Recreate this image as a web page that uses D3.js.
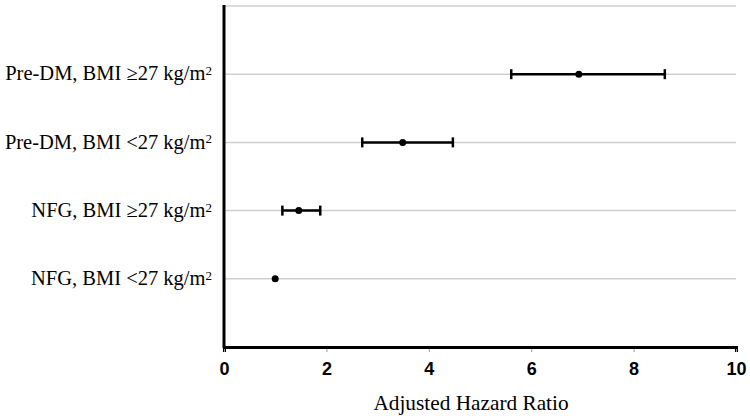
<!DOCTYPE html>
<html>
<head>
<meta charset="utf-8">
<script src="https://cdn.jsdelivr.net/npm/d3@7"></script>
<style>
  body { margin: 0; background: #fff; }
  svg { display: block; }
</style>
</head>
<body>
<svg id="chart" width="750" height="416"></svg>
<script>
// groups from bottom (1) to top (4)
const groups = ["NFG, BMI <27 kg/m", "NFG, BMI \u226527 kg/m", "Pre-DM, BMI <27 kg/m", "Pre-DM, BMI \u226527 kg/m"]
const hr = [1.0, 1.46, 3.49, 6.93]
const lower = [1.0, 1.14, 2.70, 5.61]
const upper = [1.0, 1.88, 4.47, 8.61]
const xTicks = [0, 2, 4, 6, 8, 10]

const svg = d3.select("#chart")

let x = d3.scaleLinear().domain([0, 10]).range([224, 736])
let y = d3.scaleLinear().domain([0, 5]).range([347, 6])

// gridlines
svg.append("g")
    .selectAll("line")
    .data([1, 2, 3, 4, 5])
    .join("line")
    .attr("x1", x(0)).attr("x2", x(10))
    .attr("y1", d => y(d)).attr("y2", d => y(d))
    .style("stroke", "#cfcfcf")
    .style("stroke-width", 1.5)

// x axis
let xAxis = d3.axisBottom(x).tickValues(xTicks).tickSize(5).tickPadding(10)
let gx = svg.append("g")
    .attr("transform", `translate(0,${y(0)})`)
    .call(xAxis)
gx.select(".domain").style("stroke", "#000").style("stroke-width", 3)
gx.selectAll(".tick line").style("stroke", "#999").attr("y1", 2)
gx.selectAll(".tick text")
    .style("font-family", "'Liberation Sans', Arial, sans-serif")
    .style("font-weight", "bold")
    .style("font-size", "18px")
    .style("fill", "#000")

// y axis line
svg.append("line")
    .attr("x1", x(0)).attr("x2", x(0))
    .attr("y1", y(5) - 1).attr("y2", y(0) + 1)
    .style("stroke", "#000")
    .style("stroke-width", 3)

// category labels
let labels = svg.append("g")
    .selectAll("text")
    .data(groups)
    .join("text")
    .attr("x", 212)
    .attr("y", (d, i) => y(i + 1))
    .attr("dy", "0.3em")
    .attr("text-anchor", "end")
    .style("font-family", "'Liberation Serif', 'Times New Roman', serif")
    .style("font-size", "20.5px")
    .style("fill", "#000")
labels.append("tspan").text(d => d)
labels.append("tspan")
    .attr("dy", "-0.4em")
    .style("font-size", "13px")
    .text("2")

// error bars
let rows = groups.map((g, i) => ({ pos: i + 1, hr: hr[i], lo: lower[i], hi: upper[i] }))
let ci = rows.filter(d => d.hi > d.lo)

svg.append("g")
    .selectAll("line")
    .data(ci)
    .join("line")
    .attr("x1", d => x(d.lo)).attr("x2", d => x(d.hi))
    .attr("y1", d => y(d.pos)).attr("y2", d => y(d.pos))
    .style("stroke", "#000")
    .style("stroke-width", 2.5)

let caps = ci.flatMap(d => [{ v: d.lo, pos: d.pos }, { v: d.hi, pos: d.pos }])
svg.append("g")
    .selectAll("line")
    .data(caps)
    .join("line")
    .attr("x1", d => x(d.v)).attr("x2", d => x(d.v))
    .attr("y1", d => y(d.pos) - 5).attr("y2", d => y(d.pos) + 5)
    .style("stroke", "#000")
    .style("stroke-width", 2.5)

svg.append("g")
    .selectAll("circle")
    .data(rows)
    .join("circle")
    .attr("cx", d => x(d.hr))
    .attr("cy", d => y(d.pos))
    .attr("r", 3.5)
    .style("fill", "#000")

// axis title
svg.append("text")
    .attr("transform", "translate(471,410) scale(1.065,1)")
    .attr("text-anchor", "middle")
    .style("font-family", "'Liberation Serif', 'Times New Roman', serif")
    .style("font-size", "20px")
    .style("fill", "#000")
    .text("Adjusted Hazard Ratio")
</script>
</body>
</html>
